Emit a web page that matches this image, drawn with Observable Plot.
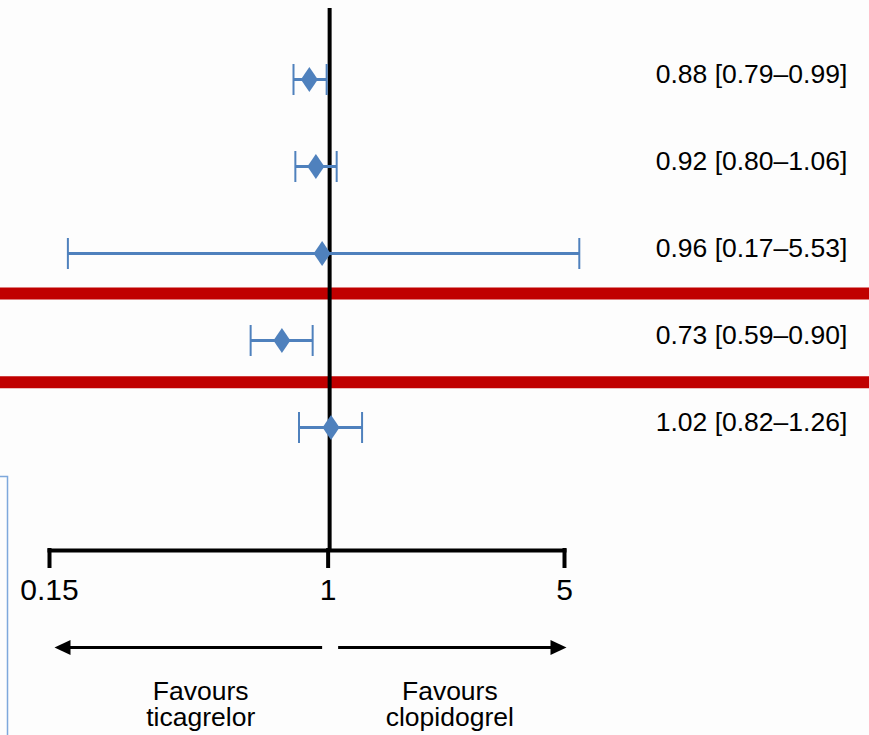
<!DOCTYPE html>
<html>
<head>
<meta charset="utf-8">
<script src="https://cdn.jsdelivr.net/npm/d3@7"></script>
<script src="https://cdn.jsdelivr.net/npm/@observablehq/plot@0.6"></script>
<style>
  html, body { margin: 0; padding: 0; background: #fdfdfd; }
  #chart { width: 869px; height: 735px; overflow: hidden; }
</style>
</head>
<body>
<div id="chart"></div>
<script>
// ---- data ----
const rowIndex   = [0, 1, 2, 3, 4];
const estimates  = [0.88, 0.92, 0.96, 0.73, 1.02];
const lower      = [0.79, 0.80, 0.17, 0.59, 0.82];
const upper      = [0.99, 1.06, 5.53, 0.90, 1.26];
const ciLabels   = ["0.88 [0.79–0.99]", "0.92 [0.80–1.06]", "0.96 [0.17–5.53]", "0.73 [0.59–0.90]", "1.02 [0.82–1.26]"];
const separators = [2.46, 3.48];          // red divider lines (between rows)
const xTicks     = [0.15, 1, 5];
const xTickText  = ["0.15", "1", "5"];
const favourText = ["Favours\nticagrelor", "Favours\nclopidogrel"];
const favourX    = [0.42, 2.29];
const arrowRow   = 6.53;                  // row position of the direction arrows
const favourRow  = 7.19;                  // row position of the "Favours" labels

// ---- build tables ----
const rows = rowIndex.map(i => ({row: i, est: estimates[i], lo: lower[i], hi: upper[i], label: ciLabels[i]}));
const ticks = xTicks.map((v, i) => ({x: v, text: xTickText[i]}));
const favours = favourText.map((t, i) => ({text: t, x: favourX[i]}));
const leftArrow = [{x1: 1, x2: xTicks[0]}];
const rightArrow = [{x1: 1, x2: xTicks[2]}];

const blue = "#4f81bd";
const red = "#c00000";

// custom symbols
const diamond = {draw(ctx) { ctx.moveTo(0, -12.5); ctx.lineTo(8.5, 0); ctx.lineTo(0, 12.5); ctx.lineTo(-8.5, 0); ctx.closePath(); }};
const cap = {draw(ctx) { ctx.moveTo(0, -15.5); ctx.lineTo(0, 15.5); }};
const headLeft = {draw(ctx) { ctx.moveTo(0, 0); ctx.lineTo(16, -7.5); ctx.lineTo(16, 7.5); ctx.closePath(); }};
const headRight = {draw(ctx) { ctx.moveTo(0, 0); ctx.lineTo(-16, -7.5); ctx.lineTo(-16, 7.5); ctx.closePath(); }};

const chart = Plot.plot({
  width: 869,
  height: 735,
  marginLeft: 49,
  marginRight: 305,
  marginTop: 8,
  marginBottom: 185,
  style: {fontFamily: "'Liberation Sans', Arial, sans-serif", color: "black", background: "transparent", overflow: "visible"},
  x: {type: "log", domain: [0.15, 5], axis: null},
  y: {domain: [0, 4], range: [79, 427], axis: null},
  marks: [
    // partial light-blue box at left edge
    Plot.frame({stroke: "#7ea8dc", strokeWidth: 1.5, insetLeft: -99, insetRight: 557, insetTop: 468, insetBottom: -250}),
    // red separators spanning the full width
    Plot.ruleY(separators, {stroke: red, strokeWidth: 12, insetLeft: -49, insetRight: -305}),
    // reference line at 1
    Plot.ruleX([1], {stroke: "black", strokeWidth: 4, dx: 1.5}),
    // x axis baseline, ticks and tick labels
    Plot.frame({anchor: "bottom", stroke: "black", strokeWidth: 4}),
    Plot.ruleX(ticks, {x: "x", stroke: "black", strokeWidth: 4, insetTop: 540, insetBottom: -18}),
    Plot.text(ticks, {x: "x", text: "text", frameAnchor: "bottom", lineAnchor: "middle", dy: 40, fontSize: 30, fill: "black"}),
    // confidence intervals
    Plot.link(rows, {x1: "lo", x2: "hi", y1: "row", y2: "row", stroke: blue, strokeWidth: 3}),
    Plot.dot(rows, {x: "lo", y: "row", symbol: cap, stroke: blue, strokeWidth: 2, fill: "none"}),
    Plot.dot(rows, {x: "hi", y: "row", symbol: cap, stroke: blue, strokeWidth: 2, fill: "none"}),
    Plot.dot(rows, {x: "est", y: "row", symbol: diamond, fill: blue, stroke: "none"}),
    // right-hand labels
    Plot.text(rows, {y: "row", text: "label", frameAnchor: "right", textAnchor: "middle", lineAnchor: "middle", dx: 187, dy: -5, fontSize: 26.5, fill: "black"}),
    // direction arrows
    Plot.arrow(leftArrow, {x1: "x1", x2: "x2", y1: () => arrowRow, y2: () => arrowRow, insetStart: 6, insetEnd: 9, headLength: 0, stroke: "black", strokeWidth: 3, strokeLinecap: "butt"}),
    Plot.arrow(rightArrow, {x1: "x1", x2: "x2", y1: () => arrowRow, y2: () => arrowRow, insetStart: 10, insetEnd: 9, headLength: 0, stroke: "black", strokeWidth: 3, strokeLinecap: "butt"}),
    Plot.dot(leftArrow, {x: "x2", y: () => arrowRow, dx: 5, symbol: headLeft, fill: "black", stroke: "none"}),
    Plot.dot(rightArrow, {x: "x2", y: () => arrowRow, dx: 2, symbol: headRight, fill: "black", stroke: "none"}),
    // favours labels
    Plot.text(favours, {x: "x", y: () => favourRow, text: "text", fontSize: 26.5, lineHeight: 0.97, textAnchor: "middle", lineAnchor: "middle", fill: "black"})
  ]
});
document.getElementById("chart").appendChild(chart);
</script>
</body>
</html>
